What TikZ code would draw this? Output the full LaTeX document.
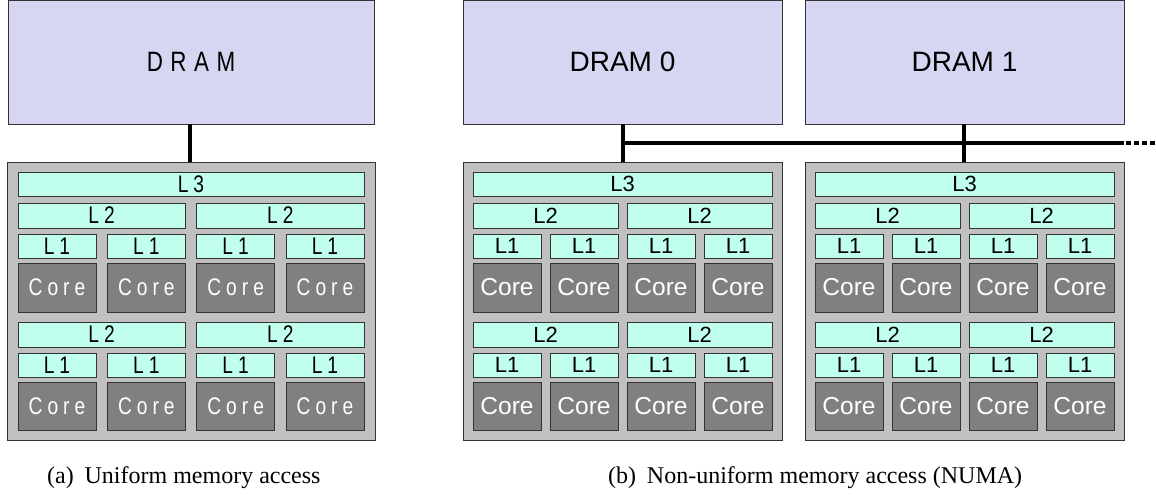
\documentclass[tikz,border=0pt]{standalone}
\usepackage{fontspec}
\setmainfont{Liberation Serif}
\newfontfamily\arialfont{Liberation Sans}
\newfontfamily\arialcond[FakeStretch=0.8]{Liberation Sans}
\definecolor{dramc}{HTML}{D6D6F2}
\definecolor{cachec}{HTML}{C0FFEE}
\definecolor{corec}{HTML}{808080}
\definecolor{pkgc}{HTML}{C0C0C0}
\definecolor{edgec}{HTML}{333333}
\tikzset{
  bxs/.style={draw=edgec, line width=0.9pt, inner sep=0pt, outer sep=0pt},
  dramb/.style={bxs, fill=dramc, font=\arialfont\fontsize{28}{30}\selectfont},
  dramL/.style={bxs, fill=dramc, font=\arialcond\fontsize{28}{30}\selectfont},
  pkgb/.style={bxs, fill=pkgc},
  cacheb/.style={bxs, fill=cachec, font=\arialfont\fontsize{22}{24}\selectfont},
  coreb/.style={bxs, fill=corec, text=white, font=\arialfont\fontsize{24.5}{26}\selectfont},
  cacheL/.style={bxs, fill=cachec, font=\arialcond\fontsize{24}{26}\selectfont},
  coreL/.style={bxs, fill=corec, text=white, font=\arialcond\fontsize{24}{26}\selectfont},
  bus/.style={line width=4pt, black},
  capt/.style={font=\fontsize{24}{26}\selectfont, inner sep=0pt, anchor=base west},
}
\newcommand\bx[7]{\node[#6, minimum width=#4-#2, minimum height=#5-#3] (#1) at ({(#2+#4)/2},{(#3+#5)/2}) {#7};}
% #1 prefix, #2 first x, #3 period, #4 L1 width, #5 cache style, #6 core style
\newcommand\pkgcontent[6]{%
  \pgfmathsetmacro\xe{#2+3*#3+#4}
  \bx{#1l3}{#2}{172}{\xe}{196}{#5}{\tA}
  \foreach \j in {0,1}{
    \pgfmathsetmacro\xs{#2+2*\j*#3}
    \pgfmathsetmacro\xe{#2+(2*\j+1)*#3+#4}
    \bx{#1l2a\j}{\xs}{203}{\xe}{228}{#5}{\tB}
    \bx{#1l2b\j}{\xs}{322}{\xe}{347}{#5}{\tB}
  }
  \foreach \i in {0,...,3}{
    \pgfmathsetmacro\xs{#2+\i*#3}
    \pgfmathsetmacro\xe{#2+\i*#3+#4}
    \bx{#1l1a\i}{\xs}{234}{\xe}{258}{#5}{\tC}
    \bx{#1ca\i}{\xs}{263}{\xe}{312}{#6}{\tD}
    \bx{#1l1b\i}{\xs}{353}{\xe}{377}{#5}{\tC}
    \bx{#1cb\i}{\xs}{382}{\xe}{430}{#6}{\tD}
  }
}
\begin{document}
\begin{tikzpicture}[x=1pt, y=-1pt]
\useasboundingbox (0,0) rectangle (1156,495);
% DRAMs
\bx{dramA}{8}{0}{374}{124}{dramL}{D\kern7.5pt R\kern7.5pt A\kern7.5pt M}
\bx{dram0}{463}{0}{782}{124}{dramb}{DRAM 0}
\bx{dram1}{805}{0}{1124}{124}{dramb}{DRAM 1}
% packages
\bx{pkgA}{7}{162}{375}{440}{pkgb}{}
\bx{pkg0}{463}{162}{782}{440}{pkgb}{}
\bx{pkg1}{805}{162}{1124}{440}{pkgb}{}
% left contents (letter-spaced)
\def\tA{L\kern5pt 3}\def\tB{L\kern5pt 2}\def\tC{L\kern5pt 1}\def\tD{C\kern5pt o\kern5pt r\kern5pt e}
\pkgcontent{a}{18}{89.33}{78}{cacheL}{coreL}
% right contents
\def\tA{L3}\def\tB{L2}\def\tC{L1}\def\tD{Core}
\pkgcontent{p}{473}{77}{68}{cacheb}{coreb}
\pkgcontent{q}{815}{77}{68}{cacheb}{coreb}
% connectors
\coordinate (xa) at (190,0);
\coordinate (x0) at (623,0);
\coordinate (x1) at (964,0);
\coordinate (j0) at (623,143);
\coordinate (busend) at (1124,143);
\coordinate (dotstart) at (1126,143);
\coordinate (dotend) at (1156,143);
\draw[bus] (dramA.south -| xa) -- (pkgA.north -| xa);
\draw[bus] (dram0.south -| x0) -- (pkg0.north -| x0);
\draw[bus] (dram1.south -| x1) -- (pkg1.north -| x1);
\draw[bus] (j0) -- (busend);
\draw[bus, dash pattern=on 4.5pt off 3.5pt] (dotstart) -- (dotend);
% captions
\node[capt] (capa) at (47,483) {(a)\hspace{0.45em}Uniform memory access};
\node[capt] (capb) at (608,483) {(b)\hspace{0.45em}Non-uniform memory access (NUMA)};
\end{tikzpicture}
\end{document}
